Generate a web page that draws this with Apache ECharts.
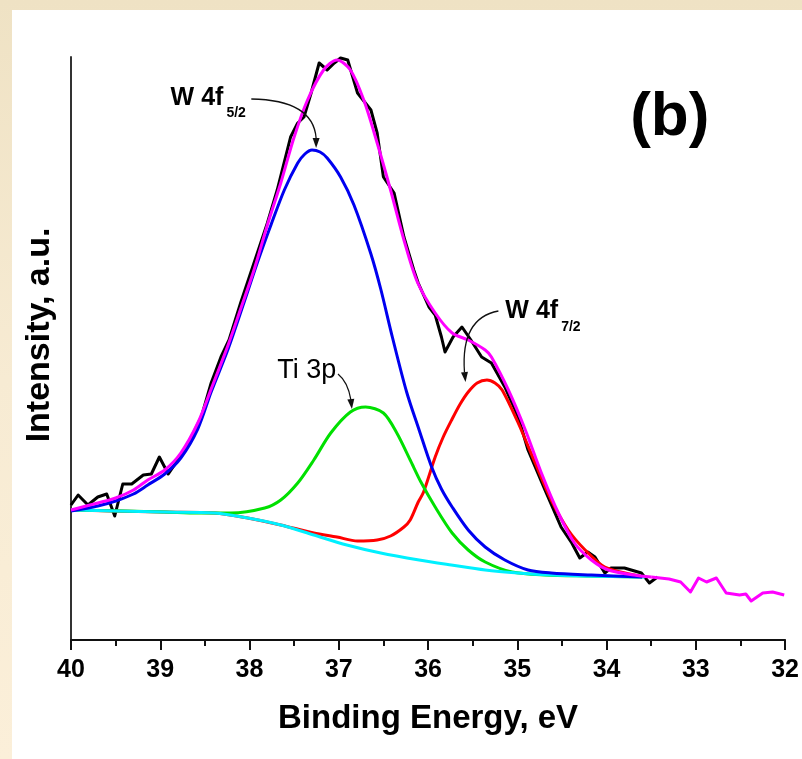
<!DOCTYPE html>
<html>
<head>
<meta charset="utf-8">
<script src="https://cdn.jsdelivr.net/npm/echarts@6/dist/echarts.min.js"></script>
<style>
  html, body { margin: 0; padding: 0; }
  body { width: 802px; height: 759px; background: linear-gradient(180deg, #efe2c4 0%, #f7ebd3 50%, #fbefd9 100%); position: relative; overflow: hidden; }
  #panel { position: absolute; left: 12px; top: 10px; right: 0; bottom: 0; background: #ffffff; }
  #chart { position: absolute; left: 0; top: 0; width: 802px; height: 759px; }
</style>
</head>
<body>
<div id="panel"></div>
<div id="chart"></div>
<script>
// ---- Data (binding energy in eV, intensity in arbitrary units) ----
const xTicks = [40, 39, 38, 37, 36, 35, 34, 33, 32];

// raw spectrum (black)
const rawE = [40.0, 39.92, 39.81, 39.70, 39.60, 39.51, 39.42, 39.32, 39.19, 39.10, 39.01, 38.91, 38.78, 38.65, 38.54, 38.43, 38.32, 38.23, 38.10, 37.95, 37.80, 37.69, 37.54, 37.46, 37.39, 37.31, 37.22, 37.13, 37.05, 36.98, 36.90, 36.79, 36.64, 36.57, 36.50, 36.38, 36.27, 36.16, 36.11, 35.99, 35.92, 35.85, 35.81, 35.72, 35.62, 35.52, 35.40, 35.29, 35.14, 34.99, 34.88, 34.69, 34.51, 34.39, 34.30, 34.21, 34.13, 34.02, 33.95, 33.80, 33.61, 33.52, 33.43];
const rawI = [132, 142, 132, 140, 143, 121, 153, 153, 162, 163, 180, 163, 180, 200, 220, 254, 280, 297, 334, 374, 414, 447, 500, 514, 520, 544, 574, 567, 574, 579, 577, 544, 527, 504, 460, 444, 400, 367, 354, 330, 322, 300, 285, 300, 310, 297, 280, 274, 250, 220, 187, 147, 110, 94, 79, 85, 80, 64, 69, 69, 64, 54, 60];

// envelope (magenta)
const envE = [40.0, 39.70, 39.50, 39.30, 39.14, 38.95, 38.77, 38.58, 38.43, 38.24, 38.10, 37.95, 37.80, 37.65, 37.50, 37.35, 37.17, 37.02, 36.87, 36.72, 36.57, 36.42, 36.27, 36.12, 35.92, 35.73, 35.55, 35.36, 35.29, 35.10, 34.91, 34.73, 34.54, 34.36, 34.17, 33.98, 33.69, 33.50];
const envI = [127, 134, 139, 147, 157, 167, 184, 214, 248, 292, 328, 367, 412, 454, 500, 537, 567, 577, 567, 537, 494, 447, 397, 355, 324, 304, 297, 287, 280, 247, 207, 164, 124, 94, 77, 67, 62, 60];
// envelope continuation beyond the measured window (magenta, noisy)
const tailE = [33.50, 33.30, 33.17, 33.06, 32.97, 32.88, 32.77, 32.66, 32.51, 32.44, 32.38, 32.25, 32.14, 32.01];
const tailI = [60, 58, 55, 45, 59, 55, 59, 44, 42, 43, 36, 44, 45, 42];

// W 4f5/2 component (blue)
const w52E = [40.0, 39.70, 39.50, 39.30, 39.14, 38.95, 38.77, 38.58, 38.43, 38.24, 38.06, 37.91, 37.76, 37.61, 37.46, 37.38, 37.30, 37.21, 37.13, 36.98, 36.83, 36.64, 36.53, 36.40, 36.24, 36.10, 35.96, 35.85, 35.73, 35.55, 35.36, 35.14, 34.88, 34.62, 34.17, 33.60];
const w52I = [126, 131, 136, 143, 152, 163, 179, 208, 245, 288, 335, 375, 412, 447, 474, 483, 487, 485, 479, 460, 432, 383, 348, 300, 245, 207, 170, 148, 130, 107, 90, 77, 67, 64, 62, 60];

// Ti 3p component (green)
const tiE = [40.0, 38.95, 38.58, 38.21, 37.83, 37.65, 37.46, 37.28, 37.09, 36.87, 36.70, 36.50, 36.35, 36.20, 36.08, 35.92, 35.73, 35.55, 35.36, 35.06, 34.69, 34.20, 33.60];
const tiI = [127, 125, 124, 124, 129, 137, 154, 177, 204, 225, 230, 224, 204, 177, 155, 130, 104, 87, 75, 65, 62, 61, 60];

// W 4f7/2 component (red)
const w72E = [40.0, 38.95, 38.39, 38.02, 37.65, 37.28, 37.02, 36.79, 36.57, 36.42, 36.27, 36.20, 36.11, 36.05, 35.92, 35.83, 35.73, 35.64, 35.55, 35.45, 35.34, 35.25, 35.17, 34.99, 34.80, 34.62, 34.43, 34.24, 34.02, 33.69, 33.60];
const w72I = [127, 125, 124, 119, 112, 104, 100, 96, 97, 101, 110, 117, 135, 145, 180, 200, 218, 233, 245, 254, 257, 254, 247, 214, 174, 137, 107, 87, 70, 62, 60];

// Shirley background (cyan)
const bgE = [40.0, 39.50, 38.95, 38.39, 38.02, 37.65, 37.28, 36.91, 36.53, 36.10, 35.74, 35.36, 34.99, 34.62, 34.24, 33.57];
const bgI = [127, 126, 125, 124, 119, 112, 102, 92, 84, 77, 72, 67, 64, 62, 61, 60];

function zip(xs, ys) { return xs.map((x, i) => [x, ys[i]]); }

const FONT = '"Liberation Sans", Arial, sans-serif';
const chart = echarts.init(document.getElementById('chart'), null, { renderer: 'canvas' });

function lineSeries(name, xs, ys, color, smooth, z) {
  return {
    name: name, type: 'line', data: zip(xs, ys), showSymbol: false, symbol: 'none',
    smooth: smooth, z: z, silent: true,
    lineStyle: { color: color, width: 3, join: 'round' }
  };
}

const option = {
  animation: false,
  backgroundColor: 'transparent',
  grid: { left: 71, right: 14, top: 57, bottom: 119, containLabel: false },
  xAxis: {
    type: 'value', min: 32, max: 40, interval: 1, inverse: true,
    name: 'Binding Energy, eV', nameLocation: 'middle', nameGap: 62,
    nameTextStyle: { fontFamily: FONT, fontWeight: 'bold', fontSize: 33, color: '#000' },
    axisLine: { show: true, onZero: false, lineStyle: { color: '#111', width: 2 } },
    axisTick: { show: true, inside: false, length: 10, lineStyle: { color: '#111', width: 2 } },
    minorTick: { show: true, splitNumber: 2, length: 6, lineStyle: { color: '#111', width: 2 } },
    axisLabel: { fontFamily: FONT, fontWeight: 'bold', fontSize: 25, color: '#000', margin: 18,
      formatter: v => xTicks.indexOf(v) >= 0 ? String(v) : '' },
    splitLine: { show: false }
  },
  yAxis: {
    type: 'value', min: -3, max: 580,
    axisLine: { show: true, onZero: false, lineStyle: { color: '#333', width: 2 } },
    axisTick: { show: false }, axisLabel: { show: false }, splitLine: { show: false }
  },
  series: [
    lineSeries('raw', rawE, rawI, '#000000', false, 2),
    lineSeries('W 4f7/2', w72E, w72I, '#ff0000', 0.3, 3),
    lineSeries('Ti 3p', tiE, tiI, '#00e000', 0.3, 4),
    lineSeries('background', bgE, bgI, '#00f0ff', 0.3, 5),
    lineSeries('W 4f5/2', w52E, w52I, '#0000f0', 0.3, 6),
    lineSeries('envelope', envE, envI, '#ff00ff', 0.3, 7),
    lineSeries('envelope tail', tailE, tailI, '#ff00ff', false, 7)
  ]
};
chart.setOption(option);

// ---- Annotations (anchored in data coordinates) ----
const P = (e, v) => chart.convertToPixel({ gridIndex: 0 }, [e, v]);
function label(text, e, v, size, weight, align) {
  const p = P(e, v);
  return { type: 'text', z: 100, x: p[0], y: p[1],
    style: { text: text, fontFamily: FONT, fontSize: size, fontWeight: weight, fill: '#000',
      align: align || 'left', verticalAlign: 'middle' } };
}
function arrow(s, c, e, t) {
  const ps = P(s[0], s[1]), pc = P(c[0], c[1]), pe = P(e[0], e[1]), pt = P(t[0], t[1]);
  const dx = pt[0] - pe[0], dy = pt[1] - pe[1];
  const L = Math.hypot(dx, dy) || 1, ux = dx / L, uy = dy / L;
  const bx = pt[0] - ux * 10, by = pt[1] - uy * 10;
  return [
    { type: 'bezierCurve', z: 100, shape: { x1: ps[0], y1: ps[1], cpx1: pc[0], cpy1: pc[1], x2: pe[0], y2: pe[1] },
      style: { stroke: '#111', lineWidth: 1.3, fill: null } },
    { type: 'polygon', z: 100, shape: { points: [[pt[0], pt[1]], [bx - uy * 3.5, by + ux * 3.5], [bx + uy * 3.5, by - ux * 3.5]] },
      style: { fill: '#111' } }
  ];
}
// y-axis title, placed beside the axis (slightly above its middle, as in the source)
const yTitle = { type: 'text', z: 100, x: 40, y: 335, rotation: Math.PI / 2,
  style: { text: 'Intensity, a.u.', fontFamily: FONT, fontSize: 34, fontWeight: 'bold', fill: '#000',
    align: 'center', verticalAlign: 'middle' } };

const graphics = [].concat(
  [yTitle],
  [label('W 4f', 38.884, 539, 25, 'bold'), label('5/2', 38.259, 524, 14, 'bold')],
  arrow([37.980, 538], [37.288, 537], [37.254, 499], [37.254, 489]),
  [label('W 4f', 35.134, 326, 25, 'bold'), label('7/2', 34.509, 310, 14, 'bold')],
  arrow([35.212, 326], [35.636, 319], [35.592, 265], [35.580, 255]),
  [label('Ti 3p', 37.690, 266, 27, 'normal')],
  arrow([37.009, 263], [36.897, 255], [36.864, 237], [36.853, 228]),
  [label('(b)', 33.292, 519, 62, 'bold', 'center')]
);
chart.setOption({ graphic: graphics });
</script>
</body>
</html>
